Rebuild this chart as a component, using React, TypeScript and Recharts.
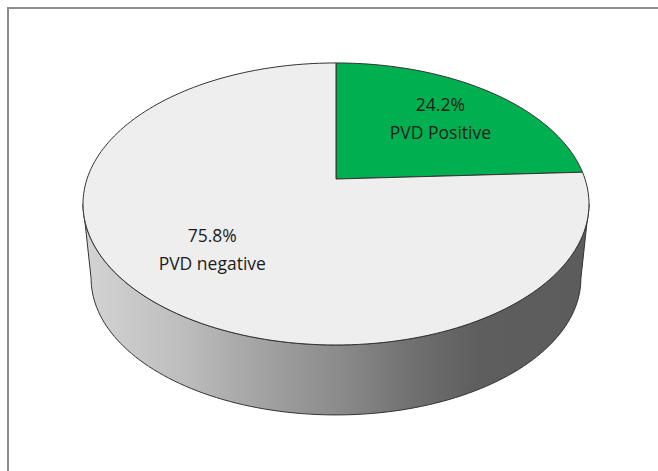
import { Cell, Pie, PieChart } from 'recharts'

// slices of the pie, clockwise from 12 o'clock
const slices = ['PVD Positive', 'PVD negative']
const shares = [24.2, 75.8]
const faceColors = ['#00b050', '#eeeeee']

const data = slices.map((name, i) => ({ name, value: shares[i] }))

const W = 658
const H = 471
const CX = 336
const CY = 179 // where the pie's centre lands on screen
const RX = 249
// perspective look of the top face
const K = 0.177
const RY = 136.6
// wall: bottom rim is the top rim shrunk toward a vanishing point below
const SHRINK = 0.968
const VY = 2531
const RAD = Math.PI / 180
const EDGE = Math.asin(K) / RAD // the wall is seen between -180+EDGE and -EDGE

function topPt(cx: number, cy: number, r: number, f: number, a: number) {
  const u = f * Math.cos(a * RAD)
  const v = f * Math.sin(a * RAD)
  const w = 1 + K * v
  return [cx + (r * u) / w, cy - (r * (RY / RX) * v) / w]
}

function lowPt(cx: number, cy: number, r: number, a: number) {
  const [x, y] = topPt(cx, cy, r, 1, a)
  return [cx + SHRINK * (x - cx), VY + SHRINK * (y - VY)]
}

function sweep(a0: number, a1: number, fn: (a: number) => number[]) {
  const n = Math.max(8, Math.ceil(Math.abs(a1 - a0) / 1.5))
  const pts: string[] = []
  for (let i = 0; i <= n; i++) {
    const p = fn(a0 + ((a1 - a0) * i) / n)
    pts.push(`${p[0].toFixed(2)},${p[1].toFixed(2)}`)
  }
  return pts
}

function TopFace(props: any) {
  const { cx, cy, outerRadius, startAngle, endAngle, fill, index } = props
  const rim = sweep(startAngle, endAngle, (a) => topPt(cx, cy, outerRadius, 1, a))
  return (
    <path
      d={`M${cx},${cy} L${rim.join(' L')} Z`}
      fill={fill ?? faceColors[index]}
      stroke="#333"
      strokeWidth={1}
      strokeLinejoin="round"
    />
  )
}

function SideWall(props: any) {
  const { cx, cy, outerRadius, startAngle, endAngle } = props
  const lo = Math.min(startAngle, endAngle)
  const hi = Math.max(startAngle, endAngle)
  const paths: string[] = []
  for (let k = -2; k <= 1; k++) {
    const a = Math.max(lo, -180 + EDGE + 360 * k)
    const b = Math.min(hi, -EDGE + 360 * k)
    if (b <= a) continue
    const top = sweep(a, b, (t) => topPt(cx, cy, outerRadius, 1, t))
    const bottom = sweep(b, a, (t) => lowPt(cx, cy, outerRadius, t))
    paths.push(`M${top.join(' L')} L${bottom.join(' L')} Z`)
  }
  if (!paths.length) return <g />
  return (
    <path
      d={paths.join(' ')}
      fill="url(#wallShade)"
      stroke="#333"
      strokeWidth={1}
      strokeLinejoin="round"
    />
  )
}

function FaceLabel(props: any) {
  const { cx, cy, midAngle, outerRadius, index } = props
  const [x, y] = topPt(cx, cy, outerRadius, 0.66, midAngle)
  return (
    <text
      x={x}
      y={y}
      textAnchor="middle"
      fontFamily="'Open Sans', sans-serif"
      fontSize={17.5}
      fill="#1c1c1c"
    >
      <tspan x={x} dy={-8}>{`${shares[index]}%`}</tspan>
      <tspan x={x} dy={28}>{slices[index]}</tspan>
    </text>
  )
}

export default function App() {
  return (
    <div
      style={{
        position: 'absolute',
        left: 0,
        top: 0,
        width: W,
        height: H,
        overflow: 'hidden',
        background: '#fff',
      }}
    >
      <div
        style={{
          position: 'absolute',
          left: 7,
          top: 7,
          width: 700,
          height: 520,
          border: '2px solid #8c8c8c',
        }}
      />
      <div style={{ position: 'absolute', left: 0, top: 0 }}>
        <PieChart width={W} height={H} margin={{ top: 0, right: 0, bottom: 0, left: 0 }}>
          <defs>
            <linearGradient
              id="wallShade"
              gradientUnits="userSpaceOnUse"
              x1={CX - RX - 4}
              y1={0}
              x2={CX + RX + 4}
              y2={0}
            >
              <stop offset="0%" stopColor="#d4d4d4" />
              <stop offset="20%" stopColor="#bdbdbd" />
              <stop offset="35%" stopColor="#a3a3a3" />
              <stop offset="50%" stopColor="#8c8c8c" />
              <stop offset="65%" stopColor="#707070" />
              <stop offset="78%" stopColor="#5e5e5e" />
              <stop offset="100%" stopColor="#5c5c5c" />
            </linearGradient>
          </defs>
          <Pie
            data={data}
            dataKey="value"
            cx={CX}
            cy={CY}
            outerRadius={RX}
            startAngle={90}
            endAngle={-270}
            stroke="none"
            shape={SideWall}
            activeShape={SideWall}
            inactiveShape={SideWall}
            isAnimationActive={false}
          />
          <Pie
            data={data}
            dataKey="value"
            cx={CX}
            cy={CY}
            outerRadius={RX}
            startAngle={90}
            endAngle={-270}
            stroke="none"
            shape={TopFace}
            activeShape={TopFace}
            inactiveShape={TopFace}
            label={FaceLabel}
            labelLine={false}
            isAnimationActive={false}
          >
            {data.map((d, i) => (
              <Cell key={d.name} fill={faceColors[i]} />
            ))}
          </Pie>
        </PieChart>
      </div>
    </div>
  )
}
